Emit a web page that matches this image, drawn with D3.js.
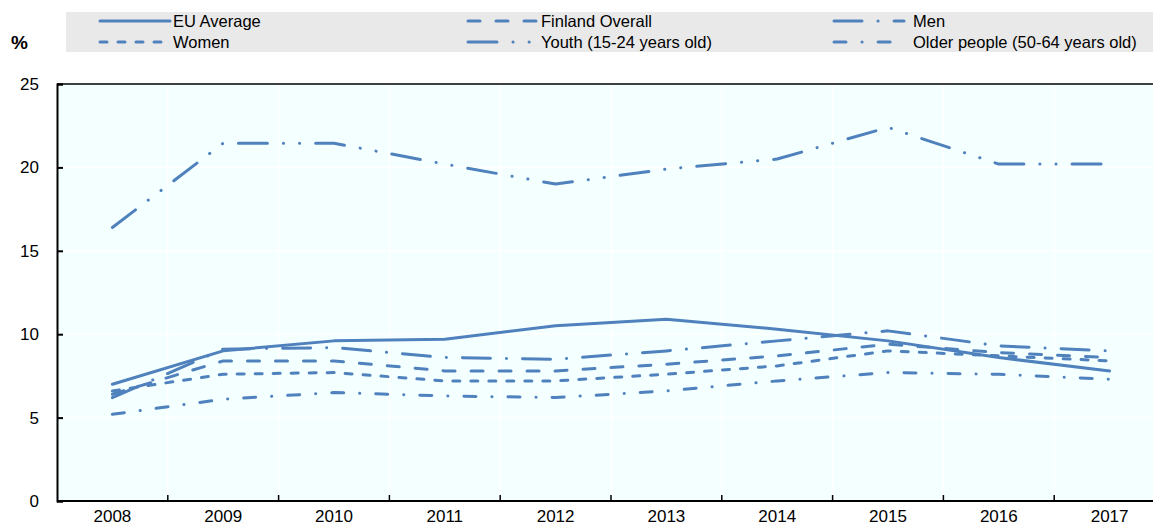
<!DOCTYPE html>
<html>
<head>
<meta charset="utf-8">
<script src="https://cdn.jsdelivr.net/npm/d3@7"></script>
<style>
    body { margin: 0; background: #fff; }
    text { font-family: "Liberation Sans", Arial, sans-serif; fill: #000; }
</style>
</head>
<body>
<div id="chart"></div>
<script>
var years = ["2008", "2009", "2010", "2011", "2012", "2013", "2014", "2015", "2016", "2017"];
var yTicks = [0, 5, 10, 15, 20, 25];

var euAverage = [7.0, 9.0, 9.6, 9.7, 10.5, 10.9, 10.3, 9.6, 8.6, 7.8];
var finlandOverall = [6.4, 8.4, 8.4, 7.8, 7.8, 8.2, 8.7, 9.4, 8.9, 8.6];
var men = [6.2, 9.1, 9.2, 8.6, 8.5, 9.0, 9.6, 10.2, 9.3, 9.0];
var women = [6.6, 7.6, 7.7, 7.2, 7.2, 7.6, 8.1, 9.0, 8.7, 8.4];
var youth = [16.4, 21.45, 21.45, 20.2, 19.0, 19.9, 20.5, 22.4, 20.2, 20.2];
var older = [5.2, 6.1, 6.5, 6.3, 6.2, 6.6, 7.2, 7.7, 7.6, 7.3];

var seriesNames = ["EU Average", "Finland Overall", "Men", "Women", "Youth (15-24 years old)", "Older people (50-64 years old)"];
var seriesValues = [euAverage, finlandOverall, men, women, youth, older];
var dashes = ["none", "12,16", "28,16,0.1,16", "7,11", "29,16,0.1,16,0.1,16", "12,16,0.1,16"];

var blue = "#4f81bd";
var width = 1153, height = 526;
var margin = {top: 84, right: -12, bottom: 25, left: 57};

var svg = d3.select("#chart").append("svg")
    .attr("width", width)
    .attr("height", height);

var x = d3.scaleBand()
    .domain(years)
    .range([margin.left, width - margin.right]);

var y = d3.scaleLinear()
    .domain([0, 25])
    .range([height - margin.bottom, margin.top]);

// plot background
svg.append("rect")
    .attr("x", margin.left)
    .attr("y", margin.top)
    .attr("width", width - margin.left)
    .attr("height", y(0) - margin.top)
    .attr("fill", "#f4ffff");

// white grid
svg.append("g")
    .selectAll("line")
    .data(yTicks.slice(1, -1))
    .enter().append("line")
    .attr("x1", margin.left)
    .attr("x2", width)
    .attr("y1", function (d) { return y(d); })
    .attr("y2", function (d) { return y(d); })
    .attr("stroke", "#fff")
    .attr("stroke-width", 1.5);

svg.append("g")
    .selectAll("line")
    .data(years.slice(1))
    .enter().append("line")
    .attr("x1", function (d) { return x(d); })
    .attr("x2", function (d) { return x(d); })
    .attr("y1", margin.top)
    .attr("y2", y(0))
    .attr("stroke", "#fff")
    .attr("stroke-width", 1.5);

// top border
svg.append("line")
    .attr("x1", margin.left)
    .attr("x2", width)
    .attr("y1", margin.top)
    .attr("y2", margin.top)
    .attr("stroke", "#000")
    .attr("stroke-width", 1.5);

// y axis
var yAxis = svg.append("g")
    .attr("transform", "translate(" + margin.left + ",0)")
    .call(d3.axisRight(y).tickValues(yTicks).tickSize(6).tickFormat(""));
yAxis.select(".domain").attr("stroke", "#000").attr("stroke-width", 2);
yAxis.selectAll(".tick line").attr("stroke", "#000").attr("stroke-width", 2);

svg.append("g")
    .selectAll("text")
    .data(yTicks)
    .enter().append("text")
    .attr("x", 39)
    .attr("y", function (d) { return y(d); })
    .attr("dy", "0.35em")
    .attr("text-anchor", "end")
    .style("font-size", "17px")
    .text(function (d) { return d; });

// x axis
var xAxis = svg.append("g")
    .attr("transform", "translate(0," + y(0) + ")");
xAxis.append("line")
    .attr("x1", margin.left)
    .attr("x2", width)
    .attr("stroke", "#000")
    .attr("stroke-width", 2);
xAxis.selectAll(".tk")
    .data(years.slice(1))
    .enter().append("line")
    .attr("class", "tk")
    .attr("x1", function (d) { return x(d); })
    .attr("x2", function (d) { return x(d); })
    .attr("y1", 0)
    .attr("y2", -6)
    .attr("stroke", "#000")
    .attr("stroke-width", 1.5);
xAxis.selectAll("text")
    .data(years)
    .enter().append("text")
    .attr("x", function (d) { return x(d) + x.bandwidth() / 2; })
    .attr("y", 21)
    .attr("text-anchor", "middle")
    .style("font-size", "17px")
    .text(function (d) { return d; });

// lines
var line = d3.line()
    .x(function (d, i) { return x(years[i]) + x.bandwidth() / 2; })
    .y(function (d) { return y(d); });

svg.append("g")
    .selectAll("path")
    .data(seriesValues)
    .enter().append("path")
    .attr("d", function (d) { return line(d); })
    .attr("fill", "none")
    .attr("stroke", blue)
    .attr("stroke-width", 3)
    .attr("stroke-linecap", "round")
    .attr("stroke-linejoin", "round")
    .attr("stroke-dasharray", function (d, i) { return dashes[i]; });

// legend
svg.append("rect")
    .attr("x", 66)
    .attr("y", 12)
    .attr("width", width - 66)
    .attr("height", 40)
    .attr("fill", "#e9e9e9");

svg.append("text")
    .attr("x", 11)
    .attr("y", 49)
    .style("font-size", "19px")
    .style("font-weight", "bold")
    .text("%");

var legendCols = [100, 468, 834];
var legendRows = [21, 42];
// legend order: row 1 = EU, Finland, Men; row 2 = Women, Youth, Older
var legend = svg.append("g")
    .selectAll("g")
    .data(seriesNames)
    .enter().append("g")
    .attr("transform", function (d, i) {
        return "translate(" + legendCols[i % 3] + "," + legendRows[Math.floor(i / 3)] + ")";
    });

legend.append("line")
    .attr("x1", 0)
    .attr("x2", 70)
    .attr("stroke", blue)
    .attr("stroke-width", 3)
    .attr("stroke-linecap", "round")
    .attr("stroke-dasharray", function (d, i) { return dashes[i]; });

legend.append("text")
    .attr("x", function (d, i) { return i % 3 == 2 ? 79 : 73; })
    .attr("y", 0)
    .attr("dy", "0.35em")
    .style("font-size", "16.5px")
    .text(function (d) { return d; });
</script>
</body>
</html>
